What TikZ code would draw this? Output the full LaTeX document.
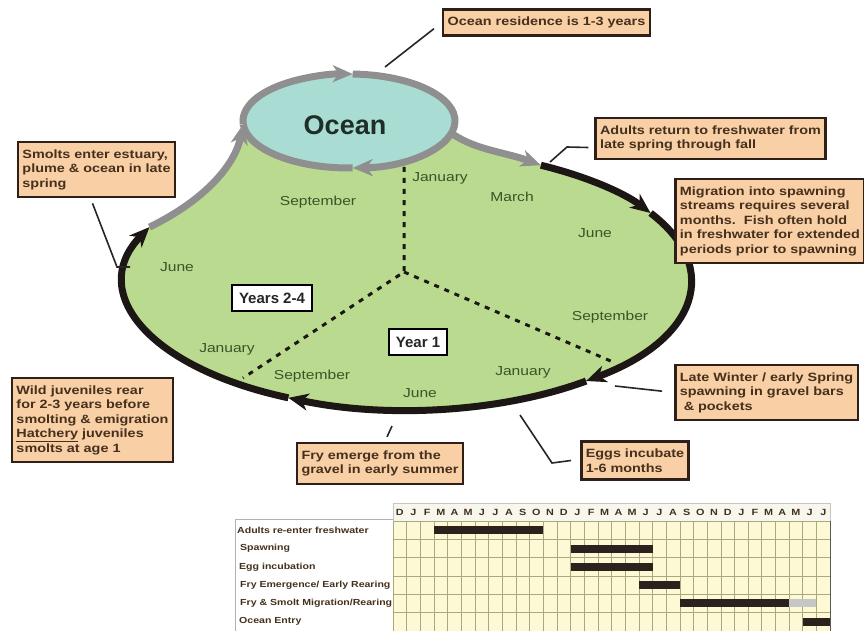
\documentclass[tikz,border=0pt]{standalone}
\usepackage{fontspec}
\setmainfont{Liberation Sans}
\newfontfamily\widesans[FakeStretch=1.2]{Liberation Sans}
\usetikzlibrary{arrows.meta, positioning}
\definecolor{landgreen}{HTML}{BADB8F}
\definecolor{seablue}{HTML}{A9DDD3}
\definecolor{loopgray}{HTML}{8F8F8F}
\definecolor{loopblack}{HTML}{1C1614}
\definecolor{notefill}{HTML}{F9CFA6}
\definecolor{noteline}{HTML}{2E2018}
\definecolor{notetext}{HTML}{44301C}
\definecolor{monthtext}{HTML}{365528}
\definecolor{oceanink}{HTML}{1F2F28}
\definecolor{gridfill}{HTML}{FCF9D4}
\definecolor{gridline}{HTML}{ABA77F}
\definecolor{headfill}{HTML}{F8F7EE}
\definecolor{barfill}{HTML}{2B211D}

\begin{document}
\begin{tikzpicture}[x=1pt, y=-1pt,
    note/.style={draw=noteline, line width=2.5pt, fill=notefill, text=notetext, align=left,
                 inner xsep=4.5pt, inner ysep=7.5pt, font=\widesans\bfseries\fontsize{12}{14.5}\selectfont},
    yearbox/.style={draw=black, line width=1.8pt, fill=white, text=black!85,
                    font=\bfseries\fontsize{15}{18}\selectfont, inner xsep=7pt, inner ysep=7.5pt},
    month/.style={text=monthtext, font=\widesans\fontsize{13}{15}\selectfont},
    leader/.style={draw=black!85, line width=1.6pt},
    headed/.style={-{Stealth[length=20pt, width=17pt, inset=6pt]}},
    seaarc/.style={draw=loopgray, line width=7pt},
    landarc/.style={draw=loopblack, line width=7pt},
    divider/.style={draw=loopblack, line width=3pt, dash pattern=on 5pt off 6pt},
    monthhead/.style={text=notetext, font=\widesans\bfseries\fontsize{9}{10}\selectfont, inner sep=0pt},
    rowlabel/.style={anchor=west, text=notetext, font=\widesans\bfseries\fontsize{8.8}{10}\selectfont, inner sep=0pt},
    gridrule/.style={draw=gridline, line width=0.7pt}
  ]
  \useasboundingbox (0,0) rectangle (864,631);

  \coordinate (land) at (408,280);
  \coordinate (sea) at (349,121);
  \coordinate (landR) at ([shift={(-62:283 and 130)}]land);
  \coordinate (landL) at ([shift={(204:283 and 130)}]land);
  \coordinate (seaL) at ([shift={(176:106 and 47)}]sea);
  \coordinate (seaR) at ([shift={(15:106 and 47)}]sea);

  \fill[landgreen] (landL) .. controls (205,200) and (235,165) .. (seaL) -- (seaR)
     .. controls (475,150) and (505,152) .. (landR)
     arc[start angle=-62, end angle=204, x radius=283, y radius=130] -- cycle;
  \fill[seablue] (sea) ellipse[x radius=106, y radius=47];

  \coordinate (hubtop) at (404,167);
  \coordinate (hub) at (404,272);
  \coordinate (hubleft) at (243,378);
  \coordinate (hubright) at (613,362);
  \draw[divider] (hubtop) -- (hub) -- (hubleft);
  \draw[divider] (hub) -- (hubright);

  \draw[seaarc, headed] (seaR) .. controls (475,150) and (505,152) .. (landR);
  \foreach \a/\b in {-62/-31, -31/51, 51/115, 115/204}
    \draw[landarc, headed] ([shift={(\a:283 and 130)}]land) arc[start angle=\a, end angle=\b, x radius=283, y radius=130];
  \draw[seaarc, headed] (landL) .. controls (205,200) and (235,165) .. (seaL);
  \foreach \a/\b in {176/272, 272/448}
    \draw[seaarc, headed] ([shift={(\a:106 and 47)}]sea) arc[start angle=\a, end angle=\b, x radius=106, y radius=47];
  \draw[seaarc] ([shift={(448:106 and 47)}]sea) arc[start angle=448, end angle=536, x radius=106, y radius=47];

  \node[font=\bfseries\fontsize{27}{30}\selectfont, text=oceanink] (oceanlabel) at (345,125) {Ocean};

  \node[month] (jan0) at (440,178) {January};
  \node[month] (sep0) at (318,202) {September};
  \node[month] (mar1) at (512,197) {March};
  \node[month] (jun1) at (595,233) {June};
  \node[month] (sep1) at (610,317) {September};
  \node[month] (jan2) at (523,372) {January};
  \node[month] (jun2) at (420,393) {June};
  \node[month] (sep2) at (312,376) {September};
  \node[month] (jan3) at (227,349) {January};
  \node[month] (jun3) at (177,267) {June};

  \node[yearbox] (years) at (272,298) {Years 2-4};
  \node[yearbox] (year1) at (418,342) {Year 1};

  \node[note] (oceanres) at (546.5,22.5) {Ocean residence is 1-3 years};
  \node[note] (adults) at (710.5,138.5) {Adults return to freshwater from\\late spring through fall};
  \node[note] (migration) at (770,221) {Migration into spawning\\streams requires several\\months.\ \ Fish often hold\\in freshwater for extended\\periods prior to spawning};
  \node[note] (smolts) at (96.5,169.5) {Smolts enter estuary,\\plume \& ocean in late\\spring};
  \node[note] (wild) at (92.5,420) {Wild juveniles rear\\for 2-3 years before\\smolting \& emigration\\\underline{Hatchery} juveniles\\smolts at age 1};
  \node[note] (fry) at (380,463.5) {Fry emerge from the\\gravel in early summer};
  \node[note] (eggs) at (635,460.5) {Eggs incubate\\1-6 months};
  \node[note] (late) at (766.5,392.5) {Late Winter / early Spring\\spawning in gravel bars\\\ \& pockets};

  \coordinate (touchocean) at (385,67);
  \coordinate (touchadults) at (550,162);
  \coordinate (touchsmolts) at (130,267);
  \coordinate (touchfry) at (392,426);
  \coordinate (toucheggs) at (520,415);
  \coordinate (touchlate) at (615,386);
  \draw[leader, shorten >=10pt] (touchocean) -- (oceanres.west);
  \draw[leader] (touchadults) -- (567,147) -- ([shift={(-6,9)}]adults.west);
  \draw[leader] ([shift={(-4,5)}]smolts.south) -- (117,267) -- (touchsmolts);
  \draw[leader] ([shift={(7,-5)}]fry.north) -- (touchfry);
  \draw[leader] (toucheggs) -- (552,463) -- ([xshift=-9]eggs.west);
  \draw[leader, shorten >=12pt] (touchlate) -- (late.west);

  \draw[gray!60, fill=white] (235,519) rectangle (393,631);
  \draw[gray!45, fill=headfill] (393,503) rectangle (830,521);
  \fill[gridfill] (393,521) rectangle (830,631);
  \foreach \i in {0,...,32}
    \draw[gridrule] ({393+13.66*\i},521) -- ({393+13.66*\i},631);
  \foreach \j in {0,...,6}
    \draw[gridrule] (393,{521+18.33*\j}) -- (830,{521+18.33*\j});
  \draw[gray!70!black, line width=1pt] (830,521) -- (830,631);
  \foreach \m [count=\i from 0] in {D,J,F,M,A,M,J,J,A,S,O,N,D,J,F,M,A,M,J,J,A,S,O,N,D,J,F,M,A,M,J,J}
    \node[monthhead] (mh\i) at ({393+13.66*(\i+0.5)},512) {\m};
  \foreach \a/\b/\r in {3/11/1, 13/19/2, 13/19/3, 18/21/4, 21/29/5, 30/32/6}
    \fill[barfill] ({393+13.66*\a},{521+18.33*(\r-0.5)-4}) rectangle ({393+13.66*\b},{521+18.33*(\r-0.5)+4});
  \fill[gray!45] ({393+13.66*29},{521+18.33*4.5-4}) rectangle ({393+13.66*31},{521+18.33*4.5+4});
  \foreach \t/\dx [count=\r] in {{Adults re-enter freshwater}/0, {Spawning}/3, {Egg incubation}/2,
      {Fry Emergence/ Early Rearing}/3, {Fry \& Smolt Migration/Rearing}/3, {Ocean Entry}/2}
    \node[rowlabel] (row\r) at ({237+\dx},{521+18.33*(\r-0.5)}) {\t};
\end{tikzpicture}
\end{document}
